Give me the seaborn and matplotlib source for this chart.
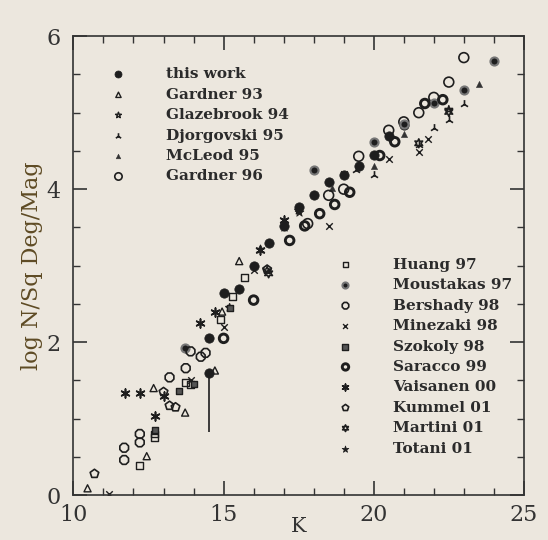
import numpy as np
import matplotlib
matplotlib.use('Agg')
import matplotlib.pyplot as plt
import pandas as pd
import seaborn as sns

sns.set_theme(style='ticks')
plt.rcParams['font.family'] = ['DejaVu Serif']

# K magnitude / log N per square degree per magnitude
this_k = [14.5, 14.5, 15.0, 15.5, 16.0, 16.5, 17.0, 17.5, 18.0, 18.5, 19.0, 19.5, 20.0, 20.5, 21.0]
this_n = [1.60, 2.05, 2.64, 2.70, 3.00, 3.30, 3.52, 3.77, 3.93, 4.09, 4.18, 4.30, 4.45, 4.70, 4.84]
err_k = [14.5]
err_lo = [0.83]
err_hi = [1.60]

g93_k = [10.47, 12.44, 12.67, 13.72, 14.71, 15.52, 14.95]
g93_n = [0.09, 0.51, 1.40, 1.08, 1.63, 3.06, 2.40]
gl94_k = [15.2, 16.45, 17.5, 22.5]
gl94_n = [2.45, 2.94, 3.72, 5.04]
dj95_k = [19.4, 20.0, 21.5, 22.0, 22.5, 23.0]
dj95_n = [4.25, 4.18, 4.58, 4.80, 4.90, 5.12]
ml95_k = [18.6, 20.0, 21.0, 23.5]
ml95_n = [4.02, 4.30, 4.72, 5.38]
g96_k = [17.8, 18.5, 19.0, 19.5, 20.5, 21.0, 21.5, 22.0, 22.5, 23.0]
g96_n = [3.55, 3.92, 4.00, 4.43, 4.77, 4.88, 5.00, 5.20, 5.40, 5.72]

hu97_k = [12.21, 12.71, 12.71, 13.72, 13.9, 14.9, 15.3, 15.7]
hu97_n = [0.39, 0.80, 0.75, 1.47, 1.45, 2.30, 2.60, 2.85]
mo97_k = [13.7, 18.0, 20.0, 21.0, 22.0, 23.0, 24.0]
mo97_n = [1.92, 4.25, 4.62, 4.85, 5.13, 5.29, 5.68]
be98_k = [11.69, 11.69, 12.21, 12.21, 13.2, 13.74, 13.9, 14.24, 14.4]
be98_n = [0.62, 0.46, 0.69, 0.80, 1.54, 1.66, 1.88, 1.81, 1.86]
mi98_k = [11.2, 13.9, 15.0, 16.0, 17.0, 18.5, 19.0, 20.5, 21.5, 21.8]
mi98_n = [0.02, 1.50, 2.20, 2.95, 3.55, 3.52, 4.20, 4.39, 4.48, 4.65]
sz98_k = [12.7, 13.5, 14.0, 15.2]
sz98_n = [0.85, 1.36, 1.45, 2.45]
sa99_k = [15.0, 16.0, 17.2, 17.7, 18.2, 18.7, 19.2, 20.2, 20.7, 21.7, 22.3]
sa99_n = [2.05, 2.55, 3.33, 3.52, 3.68, 3.80, 3.96, 4.44, 4.62, 5.12, 5.17]
va00_k = [11.72, 12.21, 12.71, 13.0, 14.22, 14.73, 16.2, 17.0]
va00_n = [1.33, 1.33, 1.03, 1.30, 2.25, 2.40, 3.20, 3.60]
ku01_k = [10.7, 13.0, 13.2, 13.4, 16.45]
ku01_n = [0.28, 1.35, 1.17, 1.15, 2.95]
ma01_k = [16.5, 21.5, 22.5]
ma01_n = [2.90, 4.60, 5.01]
to01_k = [16.2, 17.0, 17.5]
to01_n = [3.22, 3.50, 3.70]

bg = '#ece7de'
ink = '#1e1e1e'

fig, ax = plt.subplots(figsize=(5.48, 5.40), dpi=100)
fig.patch.set_facecolor(bg)
ax.set_facecolor(bg)
fig.subplots_adjust(left=0.134, right=0.956, top=0.933, bottom=0.083)

ax.vlines(err_k, err_lo, err_hi, color=ink, lw=1.2)

def pts(k, n, label, **kw):
    sns.scatterplot(x=k, y=n, ax=ax, label=label, legend=False, **kw)

pts(this_k, this_n, 'this work', marker='o', s=45, color=ink, edgecolor=ink)
pts(g93_k, g93_n, 'Gardner 93', marker='^', s=26, facecolor='none', edgecolor=ink, linewidth=1)
pts(gl94_k, gl94_n, 'Glazebrook 94', marker='*', s=34, facecolor='none', edgecolor=ink, linewidth=1)
pts(dj95_k, dj95_n, 'Djorgovski 95', marker='2', s=40, color=ink, linewidth=1.2)
pts(ml95_k, ml95_n, 'McLeod 95', marker='^', s=20, color='#333333', edgecolor='#333333')
pts(g96_k, g96_n, 'Gardner 96', marker='o', s=50, facecolor='none', edgecolor=ink, linewidth=1.2)

pts(hu97_k, hu97_n, 'Huang 97', marker='s', s=24, facecolor='none', edgecolor=ink, linewidth=1)
pts(mo97_k, mo97_n, 'Moustakas 97', marker='o', s=34, color=ink, edgecolor='#777777', linewidth=1.5)
pts(be98_k, be98_n, 'Bershady 98', marker='8', s=46, facecolor='none', edgecolor=ink, linewidth=1.2)
pts(mi98_k, mi98_n, 'Minezaki 98', marker='x', s=22, color=ink, linewidth=1)
pts(sz98_k, sz98_n, 'Szokoly 98', marker='s', s=24, color='#555555', edgecolor=ink, linewidth=1)
pts(sa99_k, sa99_n, 'Saracco 99', marker='o', s=38, facecolor='none', edgecolor=ink, linewidth=2.1)
pts(va00_k, va00_n, 'Vaisanen 00', marker=(6, 2, 0), s=40, color=ink, linewidth=1.2)
pts(ku01_k, ku01_n, 'Kummel 01', marker='p', s=42, facecolor='none', edgecolor=ink, linewidth=1.2)
pts(ma01_k, ma01_n, 'Martini 01', marker=(6, 1, 0), s=40, facecolor='none', edgecolor=ink, linewidth=1.2)
pts(to01_k, to01_n, 'Totani 01', marker='*', s=45, color=ink, edgecolor=ink)

ax.set_xlim(10, 25)
ax.set_ylim(0, 6)
ax.set_xticks([10, 15, 20, 25])
ax.set_yticks([0, 2, 4, 6])
ax.set_xticks(np.arange(10, 26, 1), minor=True)
ax.set_yticks(np.arange(0, 6.01, 0.5), minor=True)
ax.tick_params(which='both', direction='in', top=True, right=True, color='#333333')
ax.tick_params(which='major', length=10, width=1.2, labelsize=16, labelcolor='#333333', pad=6)
ax.tick_params(axis='y', which='major', pad=9)
ax.tick_params(which='minor', length=5, width=1)
for sp in ax.spines.values():
    sp.set_color('#333333')
    sp.set_linewidth(1.2)

ax.set_xlabel('K', fontsize=15, color='#333333', labelpad=-6)
ax.set_ylabel('log N/Sq Deg/Mag', fontsize=16, color='#5e4b24', labelpad=3)

handles, labels = ax.get_legend_handles_labels()
leg_kw = dict(frameon=False, handlelength=1, handletextpad=2.6, labelspacing=0.42,
              borderpad=0, borderaxespad=0, markerscale=0.75,
              prop={'size': 11, 'weight': 'bold'}, labelcolor='#2b2b2b')
leg1 = ax.legend(handles[:6], labels[:6], loc='upper left', bbox_to_anchor=(0.083, 0.932), **leg_kw)
ax.add_artist(leg1)
ax.legend(handles[6:], labels[6:], loc='upper left', bbox_to_anchor=(0.587, 0.517), **leg_kw)

fig.savefig('out.png', dpi=100, facecolor=bg)
